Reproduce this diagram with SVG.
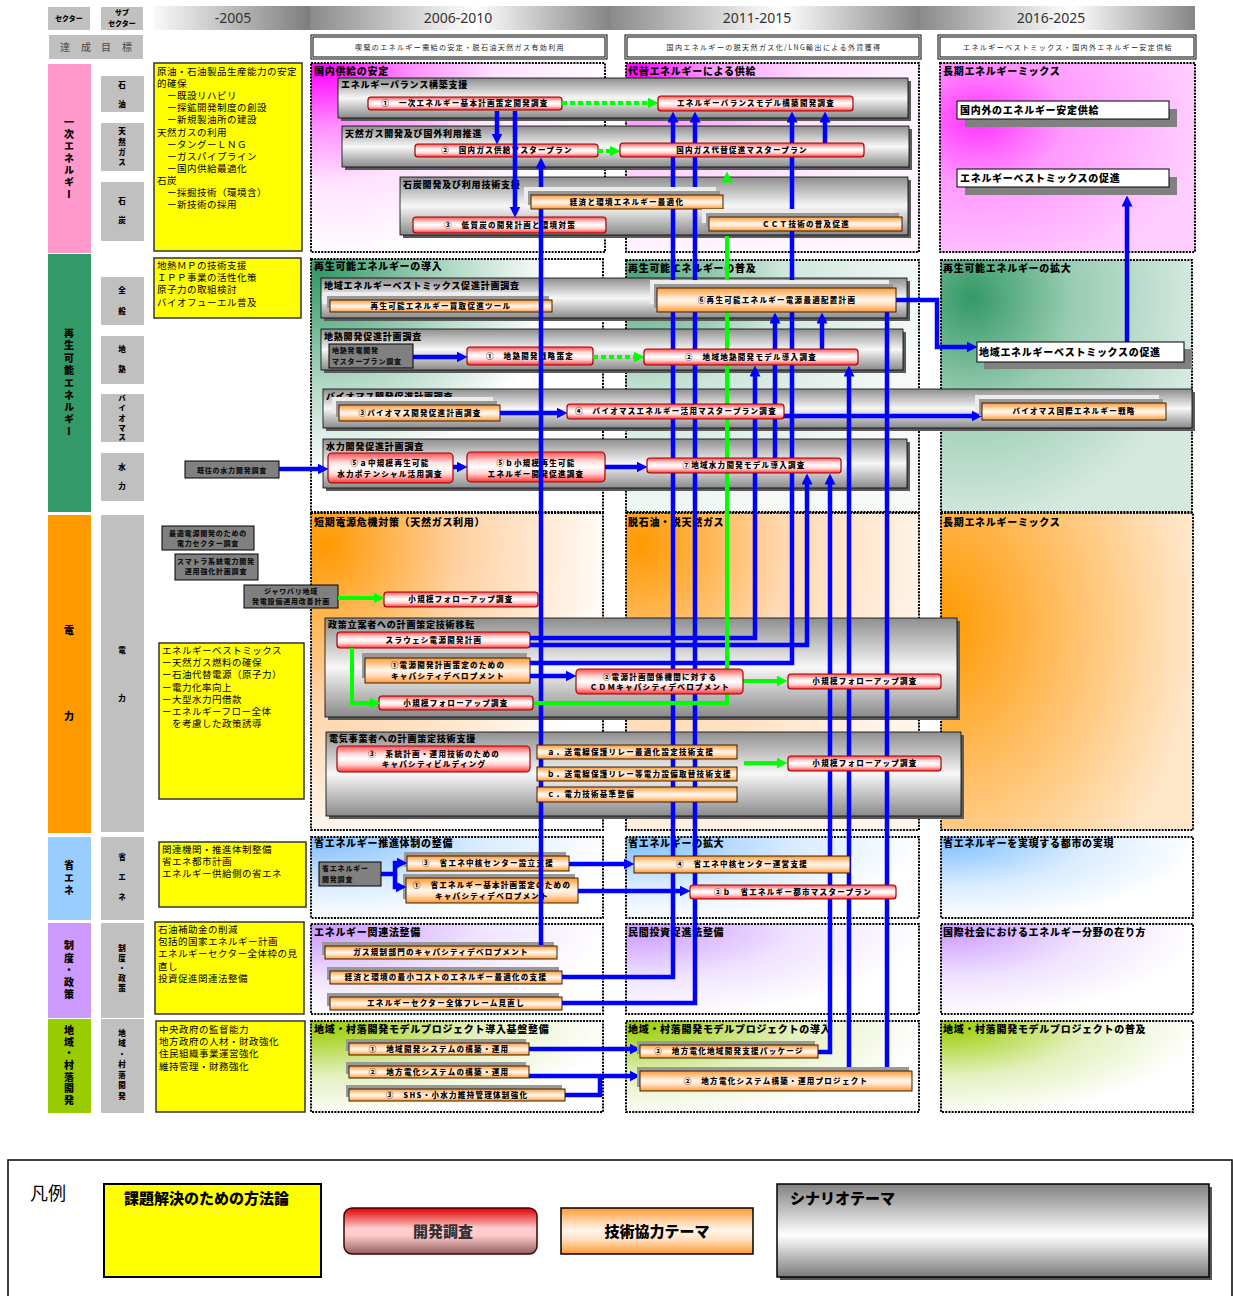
<svg xmlns="http://www.w3.org/2000/svg" width="1233" height="1296" viewBox="0 0 1233 1296">
<style>
text{font-family:"Noto Sans CJK JP","Noto Sans CJK SC",sans-serif;fill:#000}
.yr{font-family:"Noto Sans",sans-serif;font-size:14px;fill:#333;text-anchor:middle}
.hd{font-size:7px;font-weight:900;text-anchor:middle}
.sec{font-size:10px;font-weight:900;text-anchor:middle;writing-mode:vertical-rl}
.sub{font-size:7.5px;font-weight:900;text-anchor:middle;writing-mode:vertical-rl}
.tg{font-size:7px;fill:#222;text-anchor:middle;letter-spacing:1.4px}
.yl{font-size:9.5px;letter-spacing:0.5px}
.ct{font-size:10px;font-weight:900;letter-spacing:0.7px}
.bt{font-size:9px;font-weight:900;letter-spacing:0.8px}
.lb{font-size:7.5px;font-weight:900;text-anchor:middle;letter-spacing:1.3px}
.la{font-size:7.5px;font-weight:900;letter-spacing:1.3px}
.wt{font-size:10px;font-weight:900;letter-spacing:0.7px}
.pl{font-size:7px;font-weight:900;letter-spacing:0.8px;fill:#111}
.gray{fill:#c0c0c0}
.ybox{fill:#ffff00;stroke:#333;stroke-width:1.5}
.cont{stroke:#000;stroke-width:2;stroke-dasharray:2 1.2}
.band{fill:url(#gBand);stroke:#000;stroke-width:0.8}
.bsh{fill:#5a5a5a}
.rb{fill:url(#gRed);stroke:#a00000;stroke-width:1.2}
.ob{fill:url(#gOrg);stroke:#3a2000;stroke-width:1}
.s1{fill:#ececec}
.s2{fill:#999}
.pre{fill:#808080;stroke:#000;stroke-width:1}
.wb{fill:#fff;stroke:#000;stroke-width:1}
.wsh{fill:#808080}
.cb{fill:none;stroke:#0000ff;stroke-width:4.5;marker-end:url(#ab)}
.cn{fill:none;stroke:#0000ff;stroke-width:4.5}
.cg{fill:none;stroke:#00ff00;stroke-width:4;marker-end:url(#ag)}
.cgn{fill:none;stroke:#00ff00;stroke-width:4}
.dot{stroke-dasharray:5 3}
.lg{font-size:15px;font-weight:900}
</style>
<defs>
<marker id="ab" viewBox="0 0 10 10" refX="5" refY="5" markerWidth="11" markerHeight="11" markerUnits="userSpaceOnUse" orient="auto"><path d="M0,0 L10,5 L0,10 z" fill="#0000ff"/></marker>
<marker id="ag" viewBox="0 0 10 10" refX="5" refY="5" markerWidth="11" markerHeight="11" markerUnits="userSpaceOnUse" orient="auto"><path d="M0,0 L10,5 L0,10 z" fill="#00ff00"/></marker>
<linearGradient id="gT1" x1="0" y1="0" x2="1" y2="0"><stop offset="0" stop-color="#fafafa"/><stop offset="1" stop-color="#7d7d7d"/></linearGradient>
<linearGradient id="gT2" x1="0" y1="0" x2="1" y2="0"><stop offset="0" stop-color="#8a8a8a"/><stop offset="0.55" stop-color="#ffffff"/><stop offset="1" stop-color="#858585"/></linearGradient>
<linearGradient id="gBand" x1="0" y1="0" x2="0" y2="1"><stop offset="0" stop-color="#8e8e8e"/><stop offset="0.5" stop-color="#f7f7f7"/><stop offset="1" stop-color="#8a8a8a"/></linearGradient>
<linearGradient id="gRed" x1="0" y1="0" x2="0" y2="1"><stop offset="0" stop-color="#ff4d4d"/><stop offset="0.3" stop-color="#ffd9d9"/><stop offset="0.5" stop-color="#ffffff"/><stop offset="0.72" stop-color="#ffd0d0"/><stop offset="1" stop-color="#ff3333"/></linearGradient>
<linearGradient id="gOrg" x1="0" y1="0" x2="0" y2="1"><stop offset="0" stop-color="#ff9933"/><stop offset="0.35" stop-color="#ffe0c0"/><stop offset="0.5" stop-color="#fff5ea"/><stop offset="0.68" stop-color="#ffe0c0"/><stop offset="1" stop-color="#ff9933"/></linearGradient>
<linearGradient id="gRedL" x1="0" y1="0" x2="0" y2="1"><stop offset="0" stop-color="#e00000"/><stop offset="0.45" stop-color="#ffd0d0"/><stop offset="0.6" stop-color="#ffc8c8"/><stop offset="1" stop-color="#906060"/></linearGradient>
<linearGradient id="gGrayL" x1="0" y1="0" x2="0" y2="1"><stop offset="0" stop-color="#808080"/><stop offset="0.55" stop-color="#ffffff"/><stop offset="1" stop-color="#7a7a7a"/></linearGradient>
<radialGradient id="gP1" cx="0.03" cy="0.03" r="1"><stop offset="0" stop-color="#ff00ff"/><stop offset="0.3" stop-color="#ff8cff"/><stop offset="0.6" stop-color="#ffe2ff"/><stop offset="1" stop-color="#ffffff"/></radialGradient>
<radialGradient id="gP2" cx="0.03" cy="0.03" r="1"><stop offset="0" stop-color="#ff00ff"/><stop offset="0.25" stop-color="#ff99ff"/><stop offset="0.6" stop-color="#ffdcff"/><stop offset="1" stop-color="#fff5ff"/></radialGradient>
<radialGradient id="gP3" cx="0.15" cy="0.3" r="0.85"><stop offset="0" stop-color="#ff33ff"/><stop offset="0.4" stop-color="#ff99ff"/><stop offset="1" stop-color="#ffccff"/></radialGradient>
<radialGradient id="gG1" cx="0.03" cy="0.05" r="1"><stop offset="0" stop-color="#339966"/><stop offset="0.45" stop-color="#b3d9c6"/><stop offset="0.8" stop-color="#ffffff"/></radialGradient>
<radialGradient id="gG2" cx="0.03" cy="0.05" r="1"><stop offset="0" stop-color="#4da57a"/><stop offset="0.5" stop-color="#cde6d9"/><stop offset="1" stop-color="#f5faf7"/></radialGradient>
<radialGradient id="gG3" cx="0.12" cy="0.15" r="0.9"><stop offset="0" stop-color="#339966"/><stop offset="0.45" stop-color="#99ccb3"/><stop offset="1" stop-color="#d5e9df"/></radialGradient>
<radialGradient id="gO1" cx="0.05" cy="0.1" r="1"><stop offset="0" stop-color="#ff9900"/><stop offset="0.45" stop-color="#ffd0a0"/><stop offset="1" stop-color="#ffffff"/></radialGradient>
<radialGradient id="gO2" cx="0.05" cy="0.1" r="1"><stop offset="0" stop-color="#ff9900"/><stop offset="0.5" stop-color="#ffd9b3"/><stop offset="1" stop-color="#fff5eb"/></radialGradient>
<radialGradient id="gO3" cx="0" cy="0.35" r="1"><stop offset="0" stop-color="#ff9900"/><stop offset="0.5" stop-color="#ffbf66"/><stop offset="1" stop-color="#ffe6c8"/></radialGradient>
<radialGradient id="gB" cx="0.03" cy="0.05" r="1"><stop offset="0" stop-color="#80bfff"/><stop offset="0.55" stop-color="#d9ecff"/><stop offset="1" stop-color="#ffffff"/></radialGradient>
<radialGradient id="gV" cx="0.03" cy="0.05" r="1"><stop offset="0" stop-color="#cc99ff"/><stop offset="0.55" stop-color="#efe3ff"/><stop offset="1" stop-color="#ffffff"/></radialGradient>
<radialGradient id="gY" cx="0.03" cy="0.05" r="1"><stop offset="0" stop-color="#99cc00"/><stop offset="0.55" stop-color="#e4f0bf"/><stop offset="1" stop-color="#ffffff"/></radialGradient>
</defs>
<rect width="1233" height="1296" fill="#fff"/>

<!-- header -->
<g id="header">
<rect class="gray" x="48" y="7" width="42" height="23"/>
<text class="hd" x="69" y="21">セクター</text>
<rect class="gray" x="101" y="7" width="42" height="23"/>
<text class="hd" x="122" y="15">サブ</text>
<text class="hd" x="122" y="26">セクター</text>
<rect x="153" y="6" width="157" height="24" fill="url(#gT1)"/>
<rect x="310" y="6" width="300" height="24" fill="url(#gT2)"/>
<rect x="610" y="6" width="310" height="24" fill="url(#gT2)"/>
<rect x="920" y="6" width="275" height="24" fill="url(#gT2)"/>
<text class="yr" x="233" y="23">-2005</text>
<text class="yr" x="458" y="23">2006-2010</text>
<text class="yr" x="757" y="23">2011-2015</text>
<text class="yr" x="1051" y="23">2016-2025</text>
<rect class="gray" x="49" y="35" width="94" height="24"/>
<text x="65 75 86 96 106 117 127" y="51" style="font-size:10px;fill:#444;text-anchor:middle">達 成 目 標</text>
<rect x="311" y="35" width="296" height="24" fill="none" stroke="#000"/>
<rect x="313" y="37" width="292" height="20" fill="#fff" stroke="#000"/>
<text class="tg" x="460" y="50">喫緊のエネルギー需給の安定・脱石油天然ガス有効利用</text>
<rect x="625" y="35" width="296" height="24" fill="none" stroke="#000"/>
<rect x="627" y="37" width="292" height="20" fill="#fff" stroke="#000"/>
<text class="tg" x="774" y="50">国内エネルギーの脱天然ガス化/LNG輸出による外貨獲得</text>
<rect x="938" y="35" width="258" height="24" fill="none" stroke="#000"/>
<rect x="940" y="37" width="254" height="20" fill="#fff" stroke="#000"/>
<text class="tg" x="1068" y="50">エネルギーベストミックス・国内外エネルギー安定供給</text>
</g>

<!-- sector columns -->
<g id="sectors">
<rect x="48" y="64" width="43" height="189" fill="#ff99cc"/>
<text class="sec" x="69" y="122 134 146 158 170 182 194">一次エネルギー</text>
<rect x="48" y="254" width="43" height="258" fill="#339966"/>
<text class="sec" x="69" y="333 345 358 370 383 395 407 419 431">再生可能エネルギー</text>
<rect x="48" y="515" width="43" height="318" fill="#ff9900"/>
<text class="sec" x="69" y="630 716">電力</text>
<rect x="48" y="837" width="43" height="83" fill="#99ccff"/>
<text class="sec" x="69" y="865 878 890">省エネ</text>
<rect x="48" y="923" width="43" height="95" fill="#cc99ff"/>
<text class="sec" x="69" y="945 958 970 982 994">制度・政策</text>
<rect x="48" y="1019" width="43" height="94" fill="#99cc00"/>
<text class="sec" x="69" y="1030 1042 1053 1065 1077 1088 1100">地域・村落開発</text>
</g>

<g id="subsectors">
<rect class="gray" x="101" y="76" width="43" height="36"/>
<text class="sub" x="122" y="85 104">石油</text>
<rect class="gray" x="101" y="123" width="43" height="48"/>
<text class="sub" x="122" y="131 142 152 162">天然ガス</text>
<rect class="gray" x="101" y="182" width="43" height="59"/>
<text class="sub" x="122" y="201 220">石炭</text>
<rect class="gray" x="101" y="277" width="43" height="48"/>
<text class="sub" x="122" y="290 311">全般</text>
<rect class="gray" x="101" y="336" width="43" height="48"/>
<text class="sub" x="122" y="349 369">地熱</text>
<rect class="gray" x="101" y="394" width="43" height="48"/>
<text class="sub" x="122" y="398 408 418 428 437">バイオマス</text>
<rect class="gray" x="101" y="453" width="43" height="48"/>
<text class="sub" x="122" y="467 486">水力</text>
<rect class="gray" x="101" y="515" width="43" height="317"/>
<text class="sub" x="122" y="650 698">電力</text>
<rect class="gray" x="101" y="837" width="43" height="83"/>
<text class="sub" x="122" y="857 877 897">省エネ</text>
<rect class="gray" x="101" y="923" width="43" height="95"/>
<text class="sub" x="122" y="948 958 968 978 988">制度・政策</text>
<rect class="gray" x="101" y="1019" width="43" height="94"/>
<text class="sub" x="122" y="1033 1043 1054 1064 1075 1085 1096">地域・村落開発</text>
</g>

<!-- methodology boxes -->
<g id="method-primary">
<rect class="ybox" x="154" y="63" width="148" height="188"/>
<text class="yl" x="157" y="75">原油・石油製品生産能力の安定</text>
<text class="yl" x="157" y="87.1">的確保</text>
<text class="yl" x="157" y="99.2">　ー既設リハビリ</text>
<text class="yl" x="157" y="111.3">　ー探鉱開発制度の創設</text>
<text class="yl" x="157" y="123.4">　ー新規製油所の建設</text>
<text class="yl" x="157" y="135.5">天然ガスの利用</text>
<text class="yl" x="157" y="147.6">　ータングーＬＮＧ</text>
<text class="yl" x="157" y="159.7">　ーガスパイプライン</text>
<text class="yl" x="157" y="171.8">　ー国内供給最適化</text>
<text class="yl" x="157" y="183.9">石炭</text>
<text class="yl" x="157" y="196">　ー採掘技術（環境含）</text>
<text class="yl" x="157" y="208.1">　ー新技術の採用</text>
</g>
<g id="method-renewable">
<rect class="ybox" x="154" y="258" width="147" height="60"/>
<text class="yl" x="157" y="269">地熱ＭＰの技術支援</text>
<text class="yl" x="157" y="281.2">ＩＰＰ事業の活性化策</text>
<text class="yl" x="157" y="293.4">原子力の取組検討</text>
<text class="yl" x="157" y="305.6">バイオフューエル普及</text>
</g>
<g id="method-power">
<rect class="ybox" x="159" y="643" width="145" height="156"/>
<text class="yl" x="162" y="654">エネルギーベストミックス</text>
<text class="yl" x="162" y="666.2">ー天然ガス燃料の確保</text>
<text class="yl" x="162" y="678.4">ー石油代替電源（原子力）</text>
<text class="yl" x="162" y="690.6">ー電力化率向上</text>
<text class="yl" x="162" y="702.8">ー大型水力円借款</text>
<text class="yl" x="162" y="715">ーエネルギーフロー全体</text>
<text class="yl" x="162" y="727.2">　を考慮した政策誘導</text>
</g>
<g id="method-saving">
<rect class="ybox" x="159" y="842" width="147" height="65"/>
<text class="yl" x="162" y="853">関連機関・推進体制整備</text>
<text class="yl" x="162" y="865.2">省エネ都市計画</text>
<text class="yl" x="162" y="877.4">エネルギー供給側の省エネ</text>
</g>
<g id="method-policy">
<rect class="ybox" x="155" y="922" width="149" height="92"/>
<text class="yl" x="158" y="933">石油補助金の削減</text>
<text class="yl" x="158" y="945.2">包括的国家エネルギー計画</text>
<text class="yl" x="158" y="957.4">エネルギーセクター全体枠の見</text>
<text class="yl" x="158" y="969.6">直し</text>
<text class="yl" x="158" y="981.8">投資促進関連法整備</text>
</g>
<g id="method-rural">
<rect class="ybox" x="156" y="1021" width="149" height="91"/>
<text class="yl" x="159" y="1033">中央政府の監督能力</text>
<text class="yl" x="159" y="1045.2">地方政府の人材・財政強化</text>
<text class="yl" x="159" y="1057.4">住民組織事業運営強化</text>
<text class="yl" x="159" y="1069.6">維持管理・財務強化</text>
</g>

<!-- phase containers -->
<g id="phases">
<rect class="cont" x="311" y="63" width="294" height="189" fill="url(#gP1)"/>
<rect class="cont" x="626" y="63" width="293" height="189" fill="url(#gP2)"/>
<rect class="cont" x="940" y="63" width="255" height="189" fill="url(#gP3)"/>
<text class="ct" x="314" y="75">国内供給の安定</text>
<text class="ct" x="628" y="75">代替エネルギーによる供給</text>
<text class="ct" x="943" y="75">長期エネルギーミックス</text>
<rect class="cont" x="311" y="259" width="292" height="253" fill="url(#gG1)"/>
<rect class="cont" x="626" y="260" width="293" height="252" fill="url(#gG2)"/>
<rect class="cont" x="941" y="260" width="251" height="252" fill="url(#gG3)"/>
<text class="ct" x="314" y="270">再生可能エネルギーの導入</text>
<text class="ct" x="628" y="272">再生可能エネルギーの普及</text>
<text class="ct" x="943" y="272">再生可能エネルギーの拡大</text>
<rect class="cont" x="311" y="513" width="292" height="317" fill="url(#gO1)"/>
<rect class="cont" x="626" y="513" width="293" height="317" fill="url(#gO2)"/>
<rect class="cont" x="941" y="513" width="252" height="317" fill="url(#gO3)"/>
<text class="ct" x="314" y="526">短期電源危機対策（天然ガス利用）</text>
<text class="ct" x="628" y="526">脱石油・脱天然ガス</text>
<text class="ct" x="943" y="526">長期エネルギーミックス</text>
<rect class="cont" x="311" y="837" width="292" height="81" fill="url(#gB)"/>
<rect class="cont" x="626" y="837" width="293" height="81" fill="url(#gB)"/>
<rect class="cont" x="941" y="837" width="252" height="81" fill="url(#gB)"/>
<text class="ct" x="314" y="847">省エネルギー推進体制の整備</text>
<text class="ct" x="628" y="847">省エネルギーの拡大</text>
<text class="ct" x="943" y="847">省エネルギーを実現する都市の実現</text>
<rect class="cont" x="311" y="924" width="292" height="90" fill="url(#gV)"/>
<rect class="cont" x="626" y="924" width="293" height="90" fill="url(#gV)"/>
<rect class="cont" x="941" y="924" width="252" height="90" fill="url(#gV)"/>
<text class="ct" x="314" y="936">エネルギー関連法整備</text>
<text class="ct" x="628" y="936">民間投資促進法整備</text>
<text class="ct" x="943" y="936">国際社会におけるエネルギー分野の在り方</text>
<rect class="cont" x="311" y="1021" width="292" height="91" fill="url(#gY)"/>
<rect class="cont" x="626" y="1021" width="293" height="91" fill="url(#gY)"/>
<rect class="cont" x="941" y="1021" width="252" height="91" fill="url(#gY)"/>
<text class="ct" x="314" y="1033">地域・村落開発モデルプロジェクト導入基盤整備</text>
<text class="ct" x="628" y="1033">地域・村落開発モデルプロジェクトの導入</text>
<text class="ct" x="943" y="1033">地域・村落開発モデルプロジェクトの普及</text>
</g>

<!-- scenario theme bands -->
<g id="band-balance"><rect class="bsh" x="341" y="81" width="570" height="40"/><rect class="band" x="338" y="78" width="570" height="40"/><text class="bt" x="341" y="88">エネルギーバランス構築支援</text></g>
<g id="band-gas"><rect class="bsh" x="345" y="129" width="567" height="41"/><rect class="band" x="342" y="126" width="567" height="41"/><text class="bt" x="345" y="137">天然ガス開発及び国外利用推進</text></g>
<g id="band-coal"><rect class="bsh" x="403" y="180" width="508" height="58"/><rect class="band" x="400" y="177" width="508" height="58"/><text class="bt" x="403" y="188">石炭開発及び利用技術支援</text></g>
<g id="band-mix"><rect class="bsh" x="324" y="281" width="586" height="40"/><rect class="band" x="321" y="278" width="586" height="40"/><text class="bt" x="324" y="289">地域エネルギーベストミックス促進計画調査</text></g>
<g id="band-geo"><rect class="bsh" x="324" y="332" width="582" height="41"/><rect class="band" x="321" y="329" width="582" height="41"/><text class="bt" x="324" y="340">地熱開発促進計画調査</text></g>
<g id="band-bio"><rect class="bsh" x="326" y="392" width="869" height="39"/><rect class="band" x="323" y="389" width="869" height="39"/><text class="bt" x="326" y="400">バイオマス開発促進計画調査</text></g>
<g id="band-hydro"><rect class="bsh" x="326" y="442" width="584" height="49"/><rect class="band" x="323" y="439" width="584" height="49"/><text class="bt" x="326" y="450">水力開発促進計画調査</text></g>
<g id="band-policy"><rect class="bsh" x="328" y="621" width="632" height="99"/><rect class="band" x="325" y="618" width="632" height="99"/><text class="bt" x="328" y="628">政策立案者への計画策定技術移転</text></g>
<g id="band-utility"><rect class="bsh" x="329" y="735" width="635" height="84"/><rect class="band" x="326" y="732" width="635" height="84"/><text class="bt" x="329" y="742">電気事業者への計画策定技術支援</text></g>

<!-- earlier studies -->
<g id="pre-hydro"><rect class="pre" x="185" y="461" width="94" height="17"/><text class="pl" x="232" y="473" text-anchor="middle">既往の水力開発調査</text></g>
<g id="pre-power"><rect class="pre" x="162" y="526" width="92" height="24"/><text class="pl" x="208" y="536" text-anchor="middle">最適電源開発のための</text><text class="pl" x="208" y="546" text-anchor="middle">電力セクター調査</text></g>
<g id="pre-sumatra"><rect class="pre" x="175" y="554" width="83" height="26"/><text class="pl" x="216" y="564" text-anchor="middle">スマトラ系統電力開発</text><text class="pl" x="216" y="574" text-anchor="middle">運用強化計画調査</text></g>
<g id="pre-jawa"><rect class="pre" x="244" y="585" width="94" height="23"/><text class="pl" x="291" y="594" text-anchor="middle">ジャワバリ地域</text><text class="pl" x="291" y="604" text-anchor="middle">発電設備運用改善計画</text></g>
<g id="pre-geo"><rect class="pre" x="329" y="344" width="84" height="24"/><text class="pl" x="332" y="353">地熱発電開発</text><text class="pl" x="332" y="364">マスタープラン調査</text></g>
<g id="pre-saving"><rect class="pre" x="319" y="862" width="62" height="24"/><text class="pl" x="322" y="871">省エネルギー</text><text class="pl" x="322" y="882">開発調査</text></g>

<!-- 2006-2010 studies (red: development study, orange: technical cooperation) -->
<g id="r-primary-plan"><rect class="rb" x="368" y="97" width="194" height="13" rx="3"/><text class="lb" x="465" y="106">①　一次エネルギー基本計画策定開発調査</text></g>
<g id="r-gas-mp"><rect class="rb" x="415" y="144" width="183" height="13" rx="3"/><text class="lb" x="507" y="153">②　国内ガス供給マスタープラン</text></g>
<g id="r-coal"><rect class="rb" x="413" y="217" width="193" height="16" rx="3"/><text class="lb" x="510" y="228">③　低質炭の開発計画と環境対策</text></g>
<g id="r-geo1"><rect class="rb" x="467" y="347" width="126" height="18" rx="3"/><text class="lb" x="530" y="359">①　地熱開発戦略策定</text></g>
<g id="r-hydro5a"><rect class="rb" x="328" y="453" width="125" height="30" rx="4"/><text class="lb" x="390" y="466">⑤ａ中規模再生可能</text><text class="lb" x="390" y="477">水力ポテンシャル活用調査</text></g>
<g id="r-hydro5b"><rect class="rb" x="467" y="452" width="138" height="30" rx="4"/><text class="lb" x="536" y="466">⑤ｂ小規模再生可能</text><text class="lb" x="536" y="477">エネルギー開発促進調査</text></g>
<g id="r-fu1"><rect class="rb" x="384" y="592" width="154" height="15" rx="3"/><text class="lb" x="461" y="602">小規模フォローアップ調査</text></g>
<g id="r-sulawesi"><rect class="rb" x="337" y="632" width="193" height="16" rx="3"/><text class="lb" x="434" y="643">スラウェシ電源開発計画</text></g>
<g id="r-fu2"><rect class="rb" x="379" y="696" width="154" height="14" rx="3"/><text class="lb" x="456" y="706">小規模フォローアップ調査</text></g>
<g id="r-grid"><rect class="rb" x="337" y="746" width="193" height="26" rx="4"/><text class="lb" x="434" y="757">③　系統計画・運用技術のための</text><text class="lb" x="434" y="767">キャパシティビルディング</text></g>

<g id="o-feedin"><rect class="s1" x="323" y="292" width="222" height="12"/><rect class="s2" x="327" y="296" width="222" height="12"/><rect class="ob" x="330" y="300" width="222" height="12"/><text class="lb" x="441" y="309">再生可能エネルギー買取促進ツール</text></g>
<g id="o-bio3"><rect class="s1" x="332" y="397" width="161" height="16"/><rect class="s2" x="336" y="401" width="161" height="16"/><rect class="ob" x="339" y="405" width="161" height="16"/><text class="lb" x="420" y="416">③バイオマス開発促進計画調査</text></g>
<g id="o-capdev"><rect class="s2" x="362" y="653" width="165" height="25"/><rect class="ob" x="365" y="658" width="165" height="25"/><text class="lb" x="448" y="668">①電源開発計画策定のための</text><text class="lb" x="448" y="679">キャパシティデベロプメント</text></g>
<g id="o-center3"><rect class="s2" x="404" y="852" width="162" height="15"/><rect class="ob" x="407" y="856" width="162" height="15"/><text class="lb" x="488" y="866">③　省エネ中核センター設立支援</text></g>
<g id="o-saving-plan"><rect class="s2" x="403" y="874" width="172" height="25"/><rect class="ob" x="406" y="878" width="172" height="25"/><text class="lb" x="492" y="888">①　省エネルギー基本計画策定のための</text><text class="lb" x="492" y="899">キャパシティデベロプメント</text></g>
<g id="o-gas-reg"><rect class="s2" x="322" y="942" width="232" height="13"/><rect class="ob" x="325" y="946" width="232" height="13"/><text class="lb" x="441" y="955">ガス規制部門のキャパシティデベロプメント</text></g>
<g id="o-least-cost"><rect class="s2" x="327" y="967" width="232" height="13"/><rect class="ob" x="330" y="971" width="232" height="13"/><text class="lb" x="446" y="980">経済と環境の最小コストのエネルギー最適化の支援</text></g>
<g id="o-frame"><rect class="s2" x="327" y="993" width="232" height="13"/><rect class="ob" x="330" y="997" width="232" height="13"/><text class="lb" x="446" y="1006">エネルギーセクター全体フレーム見直し</text></g>
<g id="o-rural1"><rect class="s2" x="346" y="1039" width="180" height="12"/><rect class="ob" x="349" y="1043" width="180" height="12"/><text class="lb" x="439" y="1052">①　地域開発システムの構築・運用</text></g>
<g id="o-rural2"><rect class="s2" x="346" y="1062" width="180" height="12"/><rect class="ob" x="349" y="1066" width="180" height="12"/><text class="lb" x="439" y="1075">②　地方電化システムの構築・運用</text></g>
<g id="o-shs"><rect class="s2" x="346" y="1085" width="216" height="12"/><rect class="ob" x="349" y="1089" width="216" height="12"/><text class="lb" x="457" y="1098">③　SHS・小水力維持管理体制強化</text></g>

<!-- connectors -->
<g id="connectors">
<path class="cb" d="M497,111 V139"/>
<path class="cb" d="M515,111 V212"/>
<path class="cb" d="M541,945 V163"/>
<path class="cb" d="M562,977 H673 V117"/>
<path class="cb" d="M562,1003 H695 V117"/>
<path class="cb" d="M530,663 H792 V117"/>
<path class="cb" d="M825,143 V117"/>
<path class="cb" d="M413,357 H462"/>
<path class="cb" d="M500,413 H562"/>
<path class="cb" d="M784,416 H977"/>
<path class="cb" d="M279,469 H323"/>
<path class="cb" d="M453,467 H462"/>
<path class="cb" d="M605,467 H642"/>
<path class="cb" d="M896,300 H937 V347 H972"/>
<path class="cb" d="M1127,342 V201"/>
<path class="cb" d="M775,458 V318"/>
<path class="cb" d="M822,349 V318"/>
<path class="cb" d="M530,638 H755 V371"/>
<path class="cb" d="M530,645 H807 V479"/>
<path class="cb" d="M818,1052 H830 V479"/>
<path class="cb" d="M849,1071 V371"/>
<path class="cn" d="M887,1071 V312"/>
<path class="cb" d="M530,676 H571"/>
<path class="cb" d="M569,864 H629"/>
<path class="cb" d="M578,891 H685"/>
<path class="cb" d="M381,874 H395 V863 H402"/>
<path class="cb" d="M395,874 V887 H401"/>
<path class="cb" d="M529,1049 H635"/>
<path class="cb" d="M529,1076 H635"/>
<path class="cn" d="M565,1095 H600 V1076"/>
<path class="cg dot" d="M562,103 H653"/>
<path class="cg dot" d="M598,151 H615"/>
<path class="cg dot" d="M593,357 H639"/>
<path class="cgn" d="M534,703 H727 V236"/>
<path class="cg" d="M727,178 V177"/>
<path class="cg" d="M352,648 V703 H375"/>
<path class="cg" d="M338,598 H379"/>
<path class="cg" d="M743,681 H782"/>
<path class="cg" d="M744,763 H782"/>
</g>

<!-- 2011-2025 studies, drawn over the lines that pass behind them -->
<g id="r-balance-model"><rect class="rb" x="658" y="96" width="195" height="15" rx="3"/><text class="lb" x="756" y="106">エネルギーバランスモデル構築開発調査</text></g>
<g id="r-gas-alt"><rect class="rb" x="620" y="143" width="244" height="14" rx="3"/><text class="lb" x="742" y="153">国内ガス代替促進マスタープラン</text></g>
<g id="o-eco-env"><rect class="s1" x="524" y="187" width="192" height="14"/><rect class="s2" x="528" y="191" width="192" height="14"/><rect class="ob" x="531" y="195" width="192" height="14"/><text class="lb" x="627" y="205">経済と環境エネルギー最適化</text></g>
<g id="o-cct"><rect class="s1" x="702" y="209" width="193" height="14"/><rect class="s2" x="706" y="213" width="193" height="14"/><rect class="ob" x="709" y="217" width="193" height="14"/><text class="lb" x="806" y="227">ＣＣＴ技術の普及促進</text></g>
<g id="o-siting"><rect class="s1" x="650" y="280" width="239" height="24"/><rect class="s2" x="654" y="284" width="239" height="24"/><rect class="ob" x="657" y="288" width="239" height="24"/><text class="lb" x="777" y="303">⑥再生可能エネルギー電源最適配置計画</text></g>
<g id="r-geo2"><rect class="rb" x="644" y="349" width="214" height="16" rx="3"/><text class="lb" x="751" y="360">②　地域地熱開発モデル導入調査</text></g>
<g id="r-bio4"><rect class="rb" x="567" y="404" width="217" height="15" rx="3"/><text class="lb" x="676" y="414">④　バイオマスエネルギー活用マスタープラン調査</text></g>
<g id="r-hydro7"><rect class="rb" x="647" y="458" width="194" height="15" rx="3"/><text class="lb" x="744" y="468">⑦地域水力開発モデル導入調査</text></g>
<g id="r-cdm"><rect class="rb" x="576" y="669" width="167" height="25" rx="4"/><text class="lb" x="660" y="680">②電源計画関係機関に対する</text><text class="lb" x="660" y="690">ＣＤＭキャパシティデベロプメント</text></g>
<g id="r-fu3"><rect class="rb" x="788" y="674" width="153" height="15" rx="3"/><text class="lb" x="865" y="684">小規模フォローアップ調査</text></g>
<g id="o-relay-a"><rect class="ob" x="537" y="745" width="200" height="14"/><text class="la" x="547" y="755">ａ．送電線保護リレー最適化設定技術支援</text></g>
<g id="o-relay-b"><rect class="ob" x="537" y="767" width="200" height="14"/><text class="la" x="547" y="777">ｂ．送電線保護リレー等電力設備取替技術支援</text></g>
<g id="o-standard"><rect class="ob" x="537" y="787" width="200" height="15"/><text class="la" x="547" y="797">ｃ．電力技術基準整備</text></g>
<g id="r-fu4"><rect class="rb" x="788" y="756" width="153" height="15" rx="3"/><text class="lb" x="865" y="766">小規模フォローアップ調査</text></g>
<g id="o-center4"><rect class="ob" x="634" y="856" width="216" height="17"/><text class="lb" x="742" y="867">④　省エネ中核センター運営支援</text></g>
<g id="r-city"><rect class="rb" x="690" y="885" width="206" height="14" rx="3"/><text class="lb" x="793" y="895">②ｂ　省エネルギー都市マスタープラン</text></g>
<g id="o-package"><rect class="s2" x="637" y="1041" width="178" height="13"/><rect class="ob" x="640" y="1045" width="178" height="13"/><text class="lb" x="729" y="1054">②　地方電化地域開発支援パッケージ</text></g>
<g id="o-rural-proj"><rect class="s2" x="637" y="1067" width="272" height="20"/><rect class="ob" x="640" y="1071" width="272" height="20"/><text class="lb" x="776" y="1084">②　地方電化システム構築・運用プロジェクト</text></g>
<g id="o-bio-intl"><rect class="s1" x="975" y="395" width="184" height="17"/><rect class="s2" x="979" y="399" width="184" height="17"/><rect class="ob" x="982" y="403" width="184" height="17"/><text class="lb" x="1074" y="414">バイオマス国際エネルギー戦略</text></g>

<!-- long-term scenario boxes -->
<g id="w-stable"><rect class="wsh" x="965" y="109" width="212" height="18"/><rect class="wb" x="957" y="101" width="212" height="18"/><text class="wt" x="960" y="114">国内外のエネルギー安定供給</text></g>
<g id="w-bestmix"><rect class="wsh" x="965" y="177" width="212" height="18"/><rect class="wb" x="957" y="169" width="212" height="18"/><text class="wt" x="960" y="182">エネルギーベストミックスの促進</text></g>
<g id="w-local-mix"><rect class="wsh" x="984" y="349" width="208" height="20"/><rect class="wb" x="977" y="342" width="207" height="20"/><text class="wt" x="979" y="356">地域エネルギーベストミックスの促進</text></g>

<!-- legend -->
<g id="legend">
<rect x="8" y="1160" width="1224" height="150" fill="#fff" stroke="#000" stroke-width="1.5"/>
<text x="30" y="1200" style="font-size:18px">凡例</text>
<rect x="104" y="1184" width="217" height="93" fill="#ffff00" stroke="#000" stroke-width="2"/>
<text class="lg" x="124" y="1204">課題解決のための方法論</text>
<rect x="344" y="1208" width="193" height="46" rx="8" fill="url(#gRedL)" stroke="#400" stroke-width="1.5"/>
<text class="lg" x="443" y="1237" text-anchor="middle" style="fill:#333">開発調査</text>
<rect x="561" y="1208" width="192" height="46" fill="url(#gOrg)" stroke="#000" stroke-width="1.5"/>
<text class="lg" x="657" y="1237" text-anchor="middle">技術協力テーマ</text>
<rect x="780" y="1187" width="432" height="93" fill="#555"/>
<rect x="777" y="1184" width="432" height="93" fill="url(#gGrayL)" stroke="#000" stroke-width="1.5"/>
<text class="lg" x="790" y="1204">シナリオテーマ</text>
</g>
</svg>
